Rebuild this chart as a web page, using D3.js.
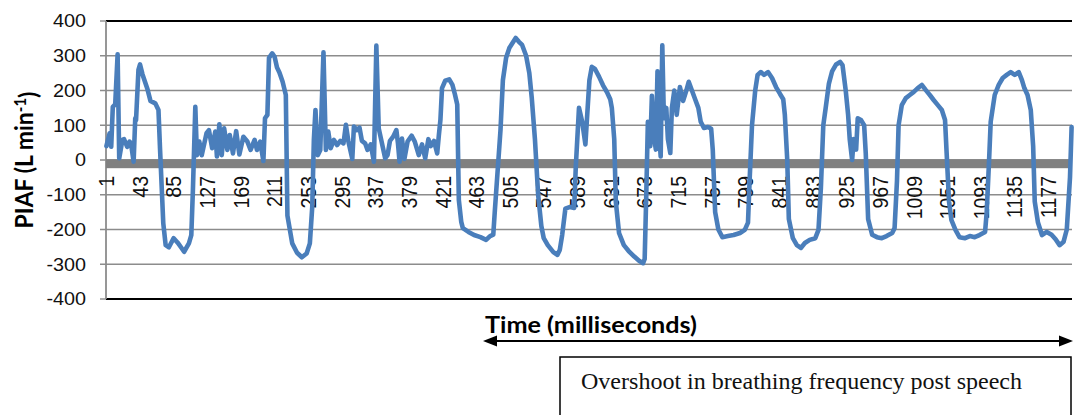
<!DOCTYPE html>
<html><head><meta charset="utf-8">
<script src="https://cdn.jsdelivr.net/npm/d3@7"></script>
<style>html,body{margin:0;padding:0;background:#fff;} svg{display:block;}</style>
</head><body>
<svg id="chart" width="1074" height="415"></svg>
<script>
// Peak inspiratory airflow trace: sample number and value in L/min
const sampleNo = [1,5,7,9,12,15,17,21,23,27,30,32,35,37,38,41,43,46,52,56,62,66,68,72,75,79,85,90,95,98,104,107,109,112,114,117,120,126,129,133,137,139,142,145,148,152,155,159,163,167,172,177,181,186,189,193,197,199,202,204,208,211,214,217,221,225,227,233,239,245,251,255,258,260,262,265,268,272,275,278,281,285,289,293,297,300,303,308,310,314,317,320,324,327,331,335,338,341,345,349,352,355,359,363,365,367,370,373,377,382,386,391,395,399,403,406,410,414,416,418,420,424,429,433,436,439,441,444,446,453,460,468,475,480,484,486,493,496,500,504,509,512,516,520,525,529,532,536,540,544,547,552,559,564,567,570,574,580,585,587,591,595,599,601,604,607,611,616,621,626,630,632,635,637,641,647,653,660,666,671,673,675,677,680,682,685,687,689,691,693,695,697,700,702,705,707,710,713,717,721,725,728,732,736,740,743,747,752,756,758,761,765,770,777,784,792,798,802,804,807,811,814,818,822,827,832,837,842,846,848,851,853,858,863,868,873,879,886,890,893,896,899,903,907,912,917,920,924,927,929,932,934,937,939,943,947,949,952,957,963,969,975,982,985,988,990,994,999,1004,1009,1014,1019,1024,1029,1034,1039,1044,1048,1050,1053,1056,1061,1066,1073,1079,1085,1091,1098,1100,1103,1105,1110,1115,1120,1125,1130,1135,1140,1144,1147,1151,1155,1158,1160,1164,1169,1175,1181,1186,1191,1196,1200,1204,1206];
const piaf = [40,77,38,153,160,304,5,58,60,38,53,43,-5,120,115,259,275,247,206,170,163,144,30,-182,-245,-251,-225,-238,-254,-264,-240,-216,-86,153,14,53,14,77,86,34,82,10,103,14,91,29,72,19,83,16,67,53,29,58,29,53,-3,120,130,294,307,297,266,252,225,187,-160,-240,-267,-280,-269,-240,-134,58,144,14,29,310,29,82,34,58,43,55,48,101,55,3,96,86,93,55,48,29,45,-5,329,91,48,5,14,55,67,86,48,-5,62,3,53,70,53,14,45,5,60,40,55,19,70,115,207,228,232,216,190,160,-115,-178,-196,-207,-216,-222,-230,-219,-215,-144,86,230,294,322,340,351,340,331,300,250,180,60,-100,-190,-225,-245,-265,-273,-259,-216,-140,-135,-138,-20,150,110,45,120,230,268,262,240,215,195,175,150,60,-120,-210,-245,-262,-278,-290,-297,-285,-100,110,40,185,60,30,255,80,10,330,120,150,60,20,150,200,130,210,170,200,225,200,175,150,110,92,95,90,30,-150,-200,-222,-219,-216,-210,-201,-180,-60,100,200,245,253,245,253,236,210,190,175,130,0,-170,-225,-245,-253,-239,-230,-225,-201,-80,100,150,220,255,275,282,273,200,130,60,0,60,30,120,115,100,20,-170,-215,-222,-225,-219,-210,-196,-60,100,158,178,187,196,207,216,201,187,172,158,144,115,20,-120,-173,-201,-222,-225,-219,-222,-216,-207,-150,0,110,187,216,236,245,253,245,253,230,207,187,144,40,-120,-180,-216,-207,-215,-228,-245,-235,-200,-50,95];
const sampleCount = 1206;
const xTickLabels = [1,43,85,127,169,211,253,295,337,379,421,463,505,547,589,631,673,715,757,799,841,883,925,967,1009,1051,1093,1135,1177];
const yTicks = [-400,-300,-200,-100,0,100,200,300,400];

const svg = d3.select("#chart");
const left = 106, right = 1072;
const x = d3.scaleLinear().domain([0.5, sampleCount + 0.5]).range([left, right]);
const y = d3.scaleLinear().domain([-400, 400]).range([299, 21]);
const stretch = 1.1;

// horizontal gridlines
svg.append("g").selectAll("line").data(yTicks.filter(v => Math.abs(v) < 400)).join("line")
  .attr("x1", left - 6).attr("x2", right)
  .attr("y1", d => y(d)).attr("y2", d => y(d))
  .attr("stroke", "#8c8c8c").attr("stroke-width", 1.4);

// top and bottom frame lines with their ticks
svg.append("g").selectAll("line").data([400, -400]).join("line")
  .attr("x1", left).attr("x2", right)
  .attr("y1", d => y(d)).attr("y2", d => y(d))
  .attr("stroke", "#000").attr("stroke-width", 1.8);
svg.append("g").selectAll("line").data([400, -400]).join("line")
  .attr("x1", left - 6).attr("x2", left)
  .attr("y1", d => y(d)).attr("y2", d => y(d))
  .attr("stroke", "#8c8c8c").attr("stroke-width", 1.4);

// value axis
svg.append("line").attr("x1", left).attr("x2", left).attr("y1", y(400)).attr("y2", y(-400))
  .attr("stroke", "#8c8c8c").attr("stroke-width", 1.8);

svg.append("g").selectAll("text").data(yTicks).join("text")
  .attr("transform", d => `translate(86,${y(d)}) scale(${stretch},1)`)
  .attr("dy", "0.36em").attr("text-anchor", "end")
  .attr("font-family", "Liberation Sans, Arial, sans-serif").attr("font-size", 18)
  .attr("fill", "#111").text(d => d);

// category labels, rotated
svg.append("g").selectAll("text").data(xTickLabels).join("text")
  .attr("transform", d => `translate(${x(d)},176) scale(${stretch},1) rotate(-90)`)
  .attr("dy", "0.36em").attr("text-anchor", "end")
  .attr("font-family", "Liberation Sans, Arial, sans-serif").attr("font-size", 19.5)
  .attr("fill", "#111").text(d => d);

// category axis drawn as a heavy band just below zero
svg.append("rect").attr("x", left).attr("width", right - left)
  .attr("y", y(0) - 0.8).attr("height", 9).attr("fill", "#808080");

// the trace
const pts = sampleNo.map((s, i) => [s, piaf[i]]);
svg.append("path").datum(pts)
  .attr("d", d3.line().x(d => x(d[0])).y(d => y(d[1])))
  .attr("fill", "none").attr("stroke", "#4a7ebb").attr("stroke-width", 4.6)
  .attr("stroke-linejoin", "round").attr("stroke-linecap", "round");

// value axis title
const yt = svg.append("text")
  .attr("transform", `translate(33,160) scale(${stretch},1) rotate(-90)`)
  .attr("text-anchor", "middle")
  .attr("font-family", "Lato, 'Open Sans', sans-serif").attr("font-weight", "bold").attr("font-size", 23);
yt.append("tspan").text("PIAF (L min");
yt.append("tspan").attr("dy", "-0.45em").attr("font-size", 15).text("-1");
yt.append("tspan").attr("dy", "0.45em").text(")");

// category axis title
svg.append("text").attr("x", 485).attr("y", 333)
  .attr("textLength", 212).attr("lengthAdjust", "spacingAndGlyphs")
  .attr("font-family", "Lato, 'Open Sans', sans-serif").attr("font-weight", "bold").attr("font-size", 22)
  .text("Time (milliseconds)");

// double-headed arrow
const ay = 341;
svg.append("line").attr("x1", 492).attr("x2", 1064).attr("y1", ay).attr("y2", ay)
  .attr("stroke", "#000").attr("stroke-width", 2);
svg.append("path").attr("d", `M483,${ay} L497,${ay - 5.5} L497,${ay + 5.5} Z`).attr("fill", "#000");
svg.append("path").attr("d", `M1073,${ay} L1059,${ay - 5.5} L1059,${ay + 5.5} Z`).attr("fill", "#000");

// annotation box
svg.append("rect").attr("x", 560).attr("y", 357).attr("width", 511).attr("height", 80)
  .attr("fill", "none").attr("stroke", "#000").attr("stroke-width", 1.5);
svg.append("text").attr("x", 581).attr("y", 389)
  .attr("textLength", 441).attr("lengthAdjust", "spacingAndGlyphs")
  .attr("font-family", "Liberation Serif, 'Times New Roman', serif").attr("font-size", 24)
  .attr("fill", "#111").text("Overshoot in breathing frequency post speech");
</script>
</body></html>
